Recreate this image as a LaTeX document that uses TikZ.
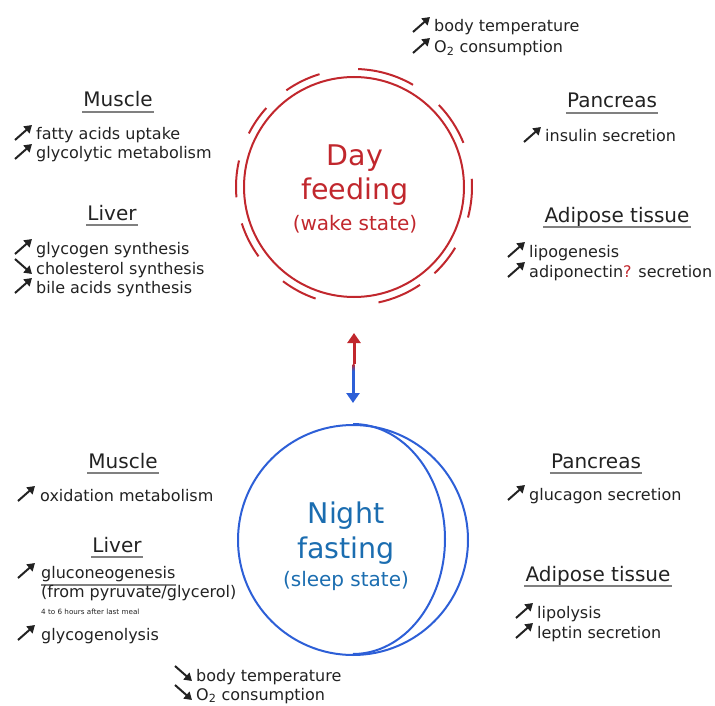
\documentclass[tikz,border=0pt]{standalone}
\usepackage{fontspec}
\setmainfont{DejaVu Sans}
\usetikzlibrary{arrows.meta,calc}

\definecolor{dayred}{HTML}{C1272D}
\definecolor{nightblue}{HTML}{2D5FD7}
\definecolor{nighttext}{HTML}{1B6DB0}
\definecolor{txt}{HTML}{222222}
\definecolor{rulegray}{HTML}{808080}

\tikzset{
  entry/.style={anchor=base west, inner sep=0pt, text=txt, font=\fontsize{16}{20}\selectfont},
  organ/.style={anchor=base, inner xsep=1pt, inner ysep=5pt, text depth=0pt, text=txt, font=\fontsize{20}{24}\selectfont},
  uline/.style={rulegray, line width=1.5pt},
  dayline/.style={dayred, line width=2pt},
  nightline/.style={nightblue, line width=2pt},
  state/.style={anchor=base, inner sep=0pt, font=\fontsize{28.5}{34}\selectfont},
  substate/.style={anchor=base, inner sep=0pt, font=\fontsize{20}{24}\selectfont},
  trend/.style={txt, line width=2pt, -{Triangle[width=9pt,length=7.5pt]}},
  uparr/.pic={\draw[trend] (1,0) -- (18,-15);},
  dnarr/.pic={\draw[trend] (1,-15) -- (18,0);}
}

\begin{document}
\begin{tikzpicture}[x=1pt,y=-1pt]
\useasboundingbox (0,0) rectangle (715,706);

% the two states
\node[circle, draw, dayline, minimum size=220pt, inner sep=0pt] (day) at (354,187) {};
\node[circle, draw, nightline, minimum size=230pt, inner sep=0pt] (night) at (353,540) {};

\foreach \a/\b in {-47/-31, -15/4, 22/44, 60/88, 107/125, 138/153, 167/185, 198/216, 233/251, 282/304}
  \draw[dayline] ($(day.center)+(\a:118pt)$) arc[start angle=\a, end angle=\b, radius=118pt];

\draw[nightline] (night.north) arc[start angle=90, end angle=-90, x radius=92pt, y radius=115pt];

\node[state, text=dayred] (dayt1) at (355,165) {Day};
\node[state, text=dayred] (dayt2) at (355,200) {feeding};
\node[substate, text=dayred] (dayt3) at (355,230) {(wake state)};

\node[state, text=nighttext] (nightt1) at (346,523) {Night};
\node[state, text=nighttext] (nightt2) at (346,558) {fasting};
\node[substate, text=nighttext] (nightt3) at (346,586) {(sleep state)};

% switch between day and night
\coordinate (gtop) at ($(day.south)+(0,66)$);
\coordinate (gbot) at ($(night.north)+(0,-53)$);
\draw[dayred, line width=3pt, -{Triangle[width=13pt,length=10pt]}, shorten >=35pt] (gtop) -- (day.south);
\draw[nightblue, line width=3pt, -{Triangle[width=13pt,length=10pt]}, shorten >=21pt] (gbot) -- (night.north);
\shade[top color=dayred, middle color=white, bottom color=nightblue] ($(gtop)+(-1.5,0)$) rectangle ($(gbot)+(1.5,0)$);

% day side
\pic at (412,32) {uparr}; \node[entry] (t1) at (434,32) {body temperature};
\pic at (412,53) {uparr}; \node[entry] (t2) at (434,53) {O\textsubscript{2} consumption};

\node[organ] (hm1) at (118,107) {Muscle};
\draw[uline] (hm1.south west) -- (hm1.south east);
\pic at (14,140) {uparr}; \node[entry] (m1) at (36,140) {fatty acids uptake};
\pic at (14,159) {uparr}; \node[entry] (m2) at (36,159) {glycolytic metabolism};

\node[organ] (hl1) at (112,220) {Liver};
\draw[uline] (hl1.south west) -- (hl1.south east);
\pic at (14,254) {uparr}; \node[entry] (l1) at (36,254) {glycogen synthesis};
\pic at (14,274) {dnarr}; \node[entry] (l2) at (36,274) {cholesterol synthesis};
\pic at (14,293) {uparr}; \node[entry] (l3) at (36,293) {bile acids synthesis};

\node[organ] (hp1) at (612,108) {Pancreas};
\draw[uline] (hp1.south west) -- (hp1.south east);
\pic at (523,142) {uparr}; \node[entry] (p1) at (545,142) {insulin secretion};

\node[organ] (ha1) at (617,222) {Adipose tissue};
\draw[uline] (ha1.south west) -- (ha1.south east);
\pic at (507,257) {uparr}; \node[entry] (a1) at (529,257) {lipogenesis};
\pic at (507,277) {uparr}; \node[entry] (a2) at (529,277) {adiponectin{\color{dayred}?} secretion};

% night side
\node[organ] (hm2) at (123,468) {Muscle};
\draw[uline] (hm2.south west) -- (hm2.south east);
\pic at (17,501) {uparr}; \node[entry] (m3) at (40,501) {oxidation metabolism};

\node[organ] (hl2) at (117,552) {Liver};
\draw[uline] (hl2.south west) -- (hl2.south east);
\pic at (17,578) {uparr}; \node[entry] (l4) at (41,578) {gluconeogenesis};
\draw[uline] ($(l4.base west)+(0,7)$) -- ($(l4.base east)+(0,7)$);
\node[entry] (l5) at (41,597) {(from pyruvate/glycerol)};
\node[entry, font=\fontsize{7.2}{9}\selectfont] (l6) at (41,614) {4 to 6 hours after last meal};
\pic at (17,640) {uparr}; \node[entry] (l7) at (41,640) {glycogenolysis};

\node[organ] (hp2) at (596,468) {Pancreas};
\draw[uline] (hp2.south west) -- (hp2.south east);
\pic at (507,500) {uparr}; \node[entry] (p2) at (529,500) {glucagon secretion};

\node[organ] (ha2) at (598,581) {Adipose tissue};
\draw[uline] (ha2.south west) -- (ha2.south east);
\pic at (515,618) {uparr}; \node[entry] (a3) at (537,618) {lipolysis};
\pic at (515,638) {uparr}; \node[entry] (a4) at (537,638) {leptin secretion};

\pic at (174,681) {dnarr}; \node[entry] (b1) at (196,681) {body temperature};
\pic at (174,700) {dnarr}; \node[entry] (b2) at (196,700) {O\textsubscript{2} consumption};
\end{tikzpicture}
\end{document}
